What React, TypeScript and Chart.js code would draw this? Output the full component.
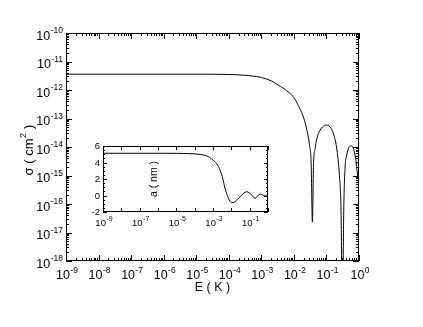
import React, { useEffect, useRef } from "react";
import { Chart, registerables } from "chart.js";

Chart.register(...registerables);

// ---------- Main panel data: cross section sigma (cm^2) vs energy E (K) ----------
const energyK = [
  1e-9, 1e-7, 1e-5, 1e-4, 3e-4, 1e-3, 2e-3, 3e-3, 5e-3, 1e-2, 1.5e-2, 2e-2, 2.5e-2, 3e-2, 3.4e-2,
  3.7e-2, 4e-2, 4.5e-2, 5e-2, 6e-2, 7.5e-2, 0.1, 0.13, 0.17, 0.21, 0.25, 0.28, 0.31, 0.34, 0.37,
  0.42, 0.5, 0.58, 0.76, 0.87, 0.93, 1.0,
];
const sigmaCm2 = [
  3.6e-12, 3.6e-12, 3.6e-12, 3.5e-12, 3.3e-12, 2.75e-12, 2.1e-12, 1.6e-12, 1.1e-12, 5.4e-13, 2.3e-13,
  1.05e-13, 4e-14, 1.2e-14, 2.3e-15, 2.3e-17, 2.3e-15, 9e-15, 1.8e-14, 3.4e-14, 5e-14, 5.9e-14, 5e-14,
  2.6e-14, 7.9e-15, 1e-15, 6e-17, 1e-20, 6e-17, 1.6e-15, 5.2e-15, 1e-14, 1.1e-14, 5.2e-15, 1.5e-15,
  9.5e-16, 3.5e-15,
];

// ---------- Inset data: scattering length a (nm) vs energy E (K) ----------
const insetEnergyK = [
  1e-9, 1e-6, 1e-5, 3e-5, 1e-4, 2e-4, 4.5e-4, 1e-3, 2e-3, 3.2e-3, 4.5e-3, 7e-3, 1.05e-2, 1.6e-2,
  3e-2, 6.9e-2, 0.13, 0.195, 0.37, 0.69, 1.0,
];
const scatteringLengthNm = [
  5.12, 5.12, 5.11, 5.09, 5.05, 4.98, 4.8, 4.3, 3.5, 2.3, 0.9, -0.35, -0.87, -0.75, -0.15, 0.46, 0.06,
  -0.34, 0.18, -0.06, -0.06,
];

// ---------- Tick labels ----------
const mainXExponents = [-9, -8, -7, -6, -5, -4, -3, -2, -1, 0];
const mainYExponents = [-18, -17, -16, -15, -14, -13, -12, -11, -10];
const insetXTickExponents = [-9, -8, -7, -6, -5, -4, -3, -2, -1, 0];
const insetXLabelExponents = [-9, -7, -5, -3, -1];
const insetYLabels = [-2, 0, 2, 4, 6];

const FONT = "'Liberation Sans', Arial, Helvetica, sans-serif";

function drawPow10(
  ctx: CanvasRenderingContext2D,
  x: number,
  baseline: number,
  exp: number,
  baseSize: number,
  supSize: number,
  raise: number,
  align: "center" | "right"
) {
  ctx.textAlign = "left";
  ctx.textBaseline = "alphabetic";
  ctx.font = `${baseSize}px ${FONT}`;
  const wb = ctx.measureText("10").width;
  ctx.font = `${supSize}px ${FONT}`;
  const es = String(exp);
  const ws = ctx.measureText(es).width;
  const total = wb + ws + 0.5;
  const start = align === "center" ? x - total / 2 : x - total;
  ctx.font = `${baseSize}px ${FONT}`;
  ctx.fillText("10", start, baseline);
  ctx.font = `${supSize}px ${FONT}`;
  ctx.fillText(es, start + wb + 0.5, baseline - raise);
}

const crisp = (v: number) => Math.round(v) + 0.5;

const mainAxesPlugin = {
  id: "mainAxes",
  afterDraw(chart: any) {
    const { ctx, chartArea, scales } = chart;
    const { left, right, top, bottom } = chartArea;
    const xs = scales.x;
    const ys = scales.y;
    ctx.save();
    ctx.strokeStyle = "#000";
    ctx.fillStyle = "#000";
    ctx.lineWidth = 1;
    ctx.strokeRect(crisp(left), crisp(top), Math.round(right - left) - 1, Math.round(bottom - top) - 1);
    ctx.beginPath();
    // x ticks (top and bottom, inward)
    for (const e of mainXExponents) {
      const px = crisp(xs.getPixelForValue(Math.pow(10, e)));
      ctx.moveTo(px, bottom);
      ctx.lineTo(px, bottom - 6);
      ctx.moveTo(px, top);
      ctx.lineTo(px, top + 6);
      if (e < 0) {
        for (let m = 2; m <= 9; m++) {
          const mx = crisp(xs.getPixelForValue(m * Math.pow(10, e)));
          ctx.moveTo(mx, bottom);
          ctx.lineTo(mx, bottom - 3);
          ctx.moveTo(mx, top);
          ctx.lineTo(mx, top + 3);
        }
      }
    }
    // y ticks (left and right, inward)
    for (const e of mainYExponents) {
      const py = crisp(ys.getPixelForValue(Math.pow(10, e)));
      ctx.moveTo(left, py);
      ctx.lineTo(left + 6, py);
      ctx.moveTo(right, py);
      ctx.lineTo(right - 6, py);
      if (e < -10) {
        for (let m = 2; m <= 9; m++) {
          const my = crisp(ys.getPixelForValue(m * Math.pow(10, e)));
          ctx.moveTo(left, my);
          ctx.lineTo(left + 3, my);
          ctx.moveTo(right, my);
          ctx.lineTo(right - 3, my);
        }
      }
    }
    ctx.stroke();
    // tick labels
    for (const e of mainXExponents) {
      const px = xs.getPixelForValue(Math.pow(10, e));
      drawPow10(ctx, px + 1, bottom + 18, e, 12.5, 8.5, 6.5, "center");
    }
    for (const e of mainYExponents) {
      const py = ys.getPixelForValue(Math.pow(10, e));
      drawPow10(ctx, left - 3, py + 6.5, e, 12.5, 8.5, 6.5, "right");
    }
    // axis titles
    ctx.font = `12.5px ${FONT}`;
    ctx.textAlign = "center";
    ctx.textBaseline = "alphabetic";
    ctx.fillText("E ( K )", (left + right) / 2, bottom + 30);
    // y title with superscript
    ctx.save();
    ctx.translate(33, (top + bottom) / 2 + 3);
    ctx.rotate(-Math.PI / 2);
    const p1 = "σ ( cm";
    const p2 = "2";
    const p3 = " )";
    ctx.font = `13px ${FONT}`;
    const w1 = ctx.measureText(p1).width;
    const w3 = ctx.measureText(p3).width;
    ctx.font = `9px ${FONT}`;
    const w2 = ctx.measureText(p2).width;
    const tot = w1 + w2 + w3 + 1;
    let sx = -tot / 2;
    ctx.textAlign = "left";
    ctx.font = `13px ${FONT}`;
    ctx.fillText(p1, sx, 0);
    sx += w1 + 0.5;
    ctx.font = `9px ${FONT}`;
    ctx.fillText(p2, sx, -7);
    sx += w2 + 0.5;
    ctx.font = `13px ${FONT}`;
    ctx.fillText(p3, sx, 0);
    ctx.restore();
    ctx.restore();
  },
};

const insetAxesPlugin = {
  id: "insetAxes",
  afterDraw(chart: any) {
    const { ctx, chartArea, scales } = chart;
    const { left, right, top, bottom } = chartArea;
    const xs = scales.x;
    const ys = scales.y;
    ctx.save();
    ctx.strokeStyle = "#000";
    ctx.fillStyle = "#000";
    ctx.lineWidth = 1;
    ctx.strokeRect(crisp(left), crisp(top), Math.round(right - left) - 1, Math.round(bottom - top) - 1);
    ctx.beginPath();
    for (const e of insetXTickExponents) {
      const px = crisp(xs.getPixelForValue(Math.pow(10, e)));
      ctx.moveTo(px, bottom);
      ctx.lineTo(px, bottom - 4);
      ctx.moveTo(px, top);
      ctx.lineTo(px, top + 4);
    }
    for (let v = -2; v <= 6.001; v += 0.5) {
      const py = crisp(ys.getPixelForValue(v));
      const major = Math.abs(v % 2) < 1e-6;
      const len = major ? 4 : 2;
      ctx.moveTo(left, py);
      ctx.lineTo(left + len, py);
      ctx.moveTo(right, py);
      ctx.lineTo(right - len, py);
    }
    ctx.stroke();
    for (const e of insetXLabelExponents) {
      const px = xs.getPixelForValue(Math.pow(10, e));
      drawPow10(ctx, px + 1, bottom + 13.5, e, 9.5, 7, 4.5, "center");
    }
    ctx.font = `9.5px ${FONT}`;
    ctx.textAlign = "right";
    ctx.textBaseline = "middle";
    for (const v of insetYLabels) {
      ctx.fillText(String(v), left - 3, ys.getPixelForValue(v) + 0.5);
    }
    ctx.save();
    ctx.translate(87, (top + bottom) / 2);
    ctx.rotate(-Math.PI / 2);
    ctx.font = `10.5px ${FONT}`;
    ctx.textAlign = "center";
    ctx.textBaseline = "alphabetic";
    ctx.fillText("a ( nm )", 0, 0);
    ctx.restore();
    ctx.restore();
  },
};

export default function App() {
  const mainRef = useRef<HTMLCanvasElement>(null);
  const insetRef = useRef<HTMLCanvasElement>(null);

  useEffect(() => {
    const main = new Chart(mainRef.current!, {
      type: "line",
      data: {
        datasets: [
          {
            data: energyK.map((e, i) => ({ x: e, y: sigmaCm2[i] })),
            borderColor: "#000",
            borderWidth: 1,
            pointRadius: 0,
            fill: false,
            cubicInterpolationMode: "monotone",
          },
        ],
      },
      options: {
        animation: false,
        responsive: false,
        events: [],
        layout: { padding: { left: 66, top: 33, right: 64, bottom: 66 } },
        plugins: { legend: { display: false }, tooltip: { enabled: false } },
        scales: {
          x: { type: "logarithmic", min: 1e-9, max: 1, display: false },
          y: { type: "logarithmic", min: 1e-18, max: 1e-10, display: false },
        },
      },
      plugins: [mainAxesPlugin],
    } as any);

    const inset = new Chart(insetRef.current!, {
      type: "line",
      data: {
        datasets: [
          {
            data: insetEnergyK.map((e, i) => ({ x: e, y: scatteringLengthNm[i] })),
            borderColor: "#000",
            borderWidth: 1,
            pointRadius: 0,
            fill: false,
            cubicInterpolationMode: "monotone",
          },
        ],
      },
      options: {
        animation: false,
        responsive: false,
        events: [],
        layout: { padding: { left: 33, top: 10, right: 7, bottom: 24 } },
        plugins: { legend: { display: false }, tooltip: { enabled: false } },
        scales: {
          x: { type: "logarithmic", min: 1e-9, max: 1, display: false },
          y: { type: "linear", min: -2, max: 6, display: false },
        },
      },
      plugins: [insetAxesPlugin],
    } as any);

    return () => {
      main.destroy();
      inset.destroy();
    };
  }, []);

  return (
    <div style={{ position: "fixed", left: 0, top: 0, width: 423, height: 327, background: "#fff" }}>
      <canvas
        ref={mainRef}
        width={423}
        height={327}
        style={{ position: "absolute", left: 0, top: 0, width: 423, height: 327 }}
      />
      <canvas
        ref={insetRef}
        width={205}
        height={100}
        style={{ position: "absolute", left: 70, top: 136, width: 205, height: 100 }}
      />
    </div>
  );
}
